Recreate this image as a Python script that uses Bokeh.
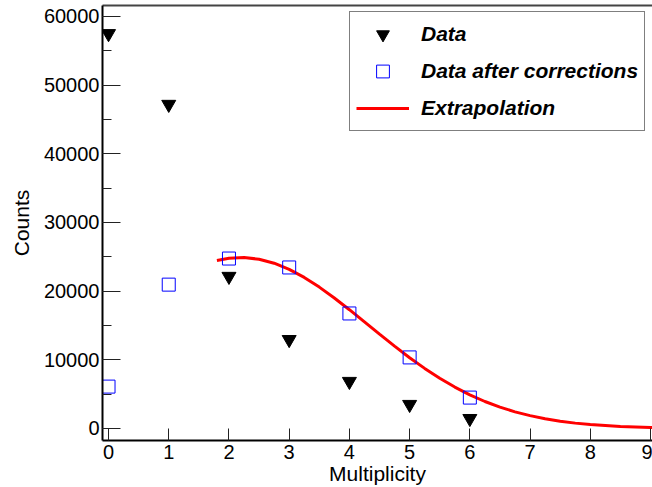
from bokeh.plotting import figure
from bokeh.models import (Range1d, Legend, LegendItem, SingleIntervalTicker,
                          LinearAxis, FixedTicker)
from bokeh.embed import file_html
from bokeh.resources import INLINE

# Data
mult = [0, 1, 2, 3, 4, 5, 6]
data_counts = [57500, 47200, 22150, 12950, 6850, 3500, 1450]
corr_counts = [6100, 20950, 24750, 23450, 16750, 10350, 4500]

extrap_x = [1.8, 2.0, 2.25, 2.5, 2.75, 3.0, 3.25, 3.5, 3.75, 4.0, 4.25, 4.5, 4.75,
            5.0, 5.25, 5.5, 5.75, 6.0, 6.25, 6.5, 6.75, 7.0, 7.25, 7.5, 7.75,
            8.0, 8.5, 9.0, 9.1]
extrap_y = [24460, 24790, 24900, 24650, 24070, 23170, 22000, 20590, 19000, 17300,
            15530, 13740, 11990, 10310, 8750, 7320, 6030, 4900, 3930, 3110, 2420,
            1870, 1410, 1055, 780, 570, 285, 137, 120]

FONT = "Liberation Sans"

p = figure(width=652, height=487, output_backend="svg", toolbar_location=None,
           x_range=Range1d(-0.1, 9.033), y_range=Range1d(-1750, 61600),
           min_border_left=102, min_border_right=0, min_border_top=5,
           min_border_bottom=47)
p.grid.visible = False
p.outline_line_color = None
p.background_fill_color = "white"
p.border_fill_color = "white"

xa = p.below[0]
ya = p.left[0]

# top frame line
top = LinearAxis(ticker=FixedTicker(ticks=[]), axis_line_width=2,
                 axis_line_color="#444444", major_tick_out=0, major_tick_in=0,
                 minor_tick_out=0, minor_tick_in=0, major_label_standoff=0)
p.add_layout(top, "above")

# axes
xa.ticker = SingleIntervalTicker(interval=1, num_minor_ticks=0)
ya.ticker = SingleIntervalTicker(interval=10000, num_minor_ticks=2)
for ax in (xa, ya):
    ax.axis_line_width = 2
    ax.axis_line_color = "black"
    ax.major_tick_out = 0
    ax.minor_tick_out = 0
    ax.major_label_text_font = FONT
    ax.major_label_text_font_size = "20px"
    ax.major_label_text_color = "black"
    ax.axis_label_text_font = FONT
    ax.axis_label_text_font_style = "normal"
    ax.axis_label_text_font_size = "21px"
    ax.axis_label_text_color = "black"
    ax.major_tick_line_color = "#222222"
    ax.minor_tick_line_color = "#222222"
xa.major_tick_in = 12
ya.major_tick_in = 18
ya.minor_tick_in = 9
xa.major_label_standoff = 4
ya.major_label_standoff = 3
xa.axis_label = "Multiplicity"
ya.axis_label = "Counts"
xa.axis_label_standoff = 0
ya.axis_label_standoff = 8

r_line = p.line(extrap_x, extrap_y, line_color="red", line_width=3)
r_data = p.scatter(mult, data_counts, marker="inverted_triangle", size=14,
                   fill_color="black", line_color="black")
r_corr = p.scatter(mult, corr_counts, marker="square", size=13,
                   fill_color=None, line_color="blue", line_width=1)

legend = Legend(items=[
    LegendItem(label="Data", renderers=[r_data]),
    LegendItem(label="Data after corrections", renderers=[r_corr]),
    LegendItem(label="Extrapolation", renderers=[r_line]),
], location=(247, 309))
legend.label_text_font = FONT
legend.label_text_font_style = "bold italic"
legend.label_text_font_size = "21px"
legend.label_text_color = "black"
legend.glyph_width = 53
legend.glyph_height = 32
legend.label_height = 20
legend.label_standoff = 12
legend.spacing = 5
legend.padding = 6
legend.margin = 0
legend.border_line_color = "black"
legend.border_line_width = 1
legend.background_fill_color = "white"
legend.background_fill_alpha = 1.0
p.add_layout(legend, "center")

open("out.html", "w").write(file_html(p, INLINE))
